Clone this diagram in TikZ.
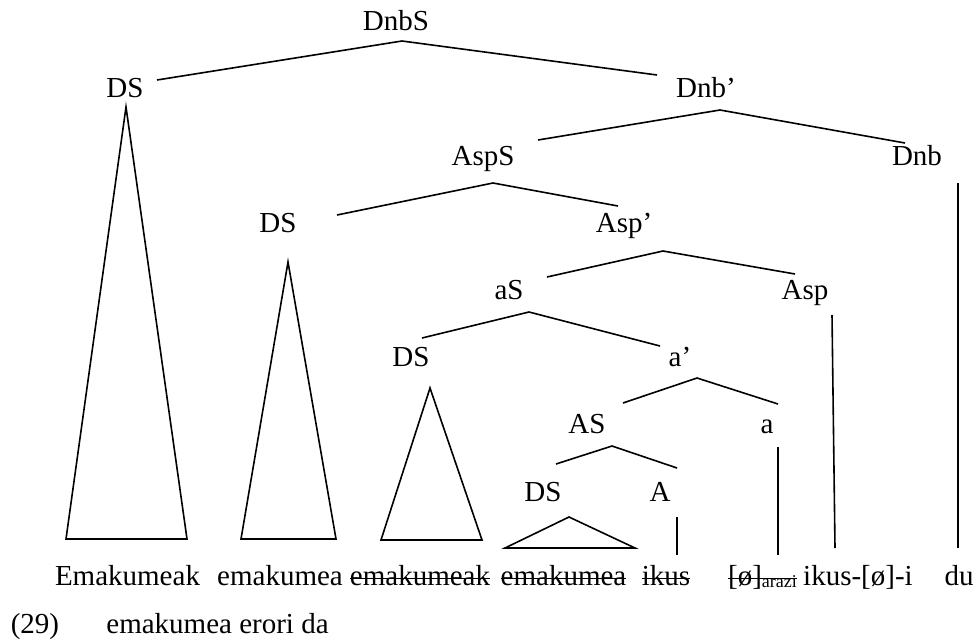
\documentclass[tikz,border=0pt]{standalone}
\usepackage{fontspec}
\setmainfont{Liberation Serif}
\newsavebox{\strkbox}
\newcommand{\strk}[1]{\sbox{\strkbox}{#1}\rlap{\rule[6pt]{\wd\strkbox}{1.5pt}}\usebox{\strkbox}}
\newcommand{\subtxt}[1]{\raisebox{-2pt}{\fontsize{18}{20}\selectfont #1}}
\tikzset{
  lbl/.style={anchor=base, inner sep=0pt, font=\fontsize{29}{34}\selectfont},
  edge/.style={line width=1.6pt, line join=miter},
}
\begin{document}
\begin{tikzpicture}[x=1pt, y=-1pt]
\useasboundingbox (0,0) rectangle (976,643);
% labels
\node[lbl] (DnbS) at (396,30) {DnbS};
\node[lbl] (DS1) at (125,97) {DS};
\node[lbl] (Dnbp) at (706,97) {Dnb’};
\node[lbl] (AspS) at (483,165) {AspS};
\node[lbl] (Dnb) at (917,165) {Dnb};
\node[lbl] (DS2) at (278,232) {DS};
\node[lbl] (Aspp) at (624,232) {Asp’};
\node[lbl] (aS) at (509,299) {aS};
\node[lbl] (Asp) at (805,299) {Asp};
\node[lbl] (DS3) at (411,366) {DS};
\node[lbl] (ap) at (680,366) {a’};
\node[lbl] (AS) at (587,433) {AS};
\node[lbl] (a) at (767,433) {a};
\node[lbl] (DS4) at (543,501) {DS};
\node[lbl] (A) at (660,501) {A};
% words
\node[lbl] (w1) at (127.5,585) {Emakumeak};
\node[lbl] (w2) at (280,585) {emakumea};
\node[lbl] (w3) at (420,585) {\strk{emakumeak}};
\node[lbl] (w4) at (563.5,585) {\strk{emakumea}};
\node[lbl] (w5) at (666,585) {\strk{ikus}};
\node[lbl] (w6) at (762.5,585) {\strk{[ø]\subtxt{arazi}}};
\node[lbl] (w7) at (858,585) {ikus-[ø]-i};
\node[lbl] (w8) at (959,585) {du};
\node[lbl] (num) at (35,633) {(29)};
\node[lbl] (ex) at (217.5,633) {emakumea erori da};
% branch points
\coordinate (DnbS-b) at (402,41);
\coordinate (DS1-t) at (157,80);
\coordinate (Dnbp-t) at (657,75);
\coordinate (Dnbp-b) at (720,110);
\coordinate (AspS-t) at (538,140);
\coordinate (Dnb-t) at (905,143);
\coordinate (AspS-b) at (493,183);
\coordinate (DS2-t) at (337,215);
\coordinate (Aspp-t) at (618,206);
\coordinate (Aspp-b) at (663,251);
\coordinate (aS-t) at (547,277);
\coordinate (Asp-t) at (795,274);
\coordinate (aS-b) at (529,312);
\coordinate (DS3-t) at (422,338);
\coordinate (ap-t) at (660,346);
\coordinate (ap-b) at (697,378);
\coordinate (AS-t) at (623,403);
\coordinate (a-t) at (778,404);
\coordinate (AS-b) at (612,446);
\coordinate (DS4-t) at (556,464);
\coordinate (A-t) at (677,468);
% vertical line ends
\coordinate (Dnb-b) at (958,183);
\coordinate (du-t) at (958,548);
\coordinate (Asp-b) at (832,315);
\coordinate (ikus-t) at (835,548);
\coordinate (a-b) at (778,447);
\coordinate (arazi-t) at (778,555);
\coordinate (A-b) at (677,517);
\coordinate (ikuss-t) at (677,555);
% triangles
\coordinate (T1a) at (126,107); \coordinate (T1l) at (66,539); \coordinate (T1r) at (187,539);
\coordinate (T2a) at (288,262); \coordinate (T2l) at (241,539); \coordinate (T2r) at (336,539);
\coordinate (T3a) at (430,388); \coordinate (T3l) at (381,540); \coordinate (T3r) at (482,540);
\coordinate (T4a) at (569,517); \coordinate (T4l) at (505,548); \coordinate (T4r) at (635,548);
% edges
\draw[edge] (DS1-t) -- (DnbS-b) -- (Dnbp-t);
\draw[edge] (AspS-t) -- (Dnbp-b) -- (Dnb-t);
\draw[edge] (DS2-t) -- (AspS-b) -- (Aspp-t);
\draw[edge] (aS-t) -- (Aspp-b) -- (Asp-t);
\draw[edge] (DS3-t) -- (aS-b) -- (ap-t);
\draw[edge] (AS-t) -- (ap-b) -- (a-t);
\draw[edge] (DS4-t) -- (AS-b) -- (A-t);
\draw[edge] (Dnb-b) -- (du-t);
\draw[edge] (Asp-b) -- (ikus-t);
\draw[edge] (a-b) -- (arazi-t);
\draw[edge] (A-b) -- (ikuss-t);
\draw[edge] (T1a) -- (T1l) -- (T1r) -- cycle;
\draw[edge] (T2a) -- (T2l) -- (T2r) -- cycle;
\draw[edge] (T3a) -- (T3l) -- (T3r) -- cycle;
\draw[edge] (T4a) -- (T4l) -- (T4r) -- cycle;
\end{tikzpicture}
\end{document}
